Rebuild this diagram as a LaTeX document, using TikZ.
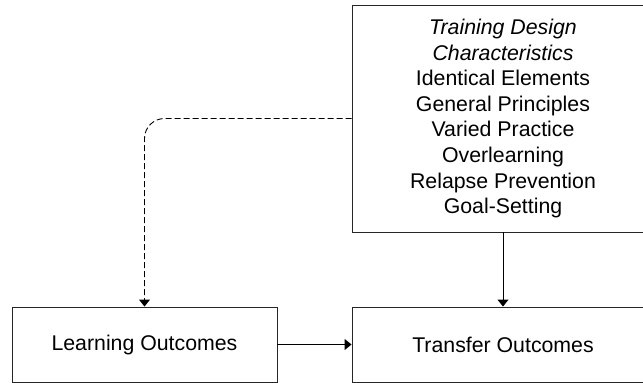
\documentclass[tikz,border=0pt]{standalone}
\usepackage{fontspec}
\setmainfont{Liberation Sans}
\usetikzlibrary{arrows.meta}
\begin{document}
\begin{tikzpicture}[x=1pt,y=-1pt,
  every node/.style={font=\fontsize{21.3}{25.6}\selectfont, inner sep=0pt},
  box/.style={draw=black!85, line width=0.9pt, align=center},
  link/.style={line width=0.9pt, -{Triangle[length=7pt,width=11pt]}},
  optlink/.style={link, dash pattern=on 6pt off 3pt, rounded corners=20pt}]
  \useasboundingbox (0,0) rectangle (643,383);
  \clip (0,0) rectangle (643,383);
  \node[box, minimum width=302pt, minimum height=227pt] (design) at (503,118.5)
    {\textit{Training Design}\\\textit{Characteristics}\\Identical Elements\\General Principles\\Varied Practice\\Overlearning\\Relapse Prevention\\Goal-Setting};
  \node[box, minimum width=265pt, minimum height=75pt] (learn) at (144.5,344.5) {Learning Outcomes};
  \node[box, minimum width=302pt, minimum height=75pt] (transfer) at (503,344.5) {Transfer Outcomes};
  \draw[optlink] (design.west) -| (learn.north);
  \draw[link] (design.south) -- (transfer.north);
  \draw[link] (learn.east) -- (transfer.west);
\end{tikzpicture}
\end{document}
